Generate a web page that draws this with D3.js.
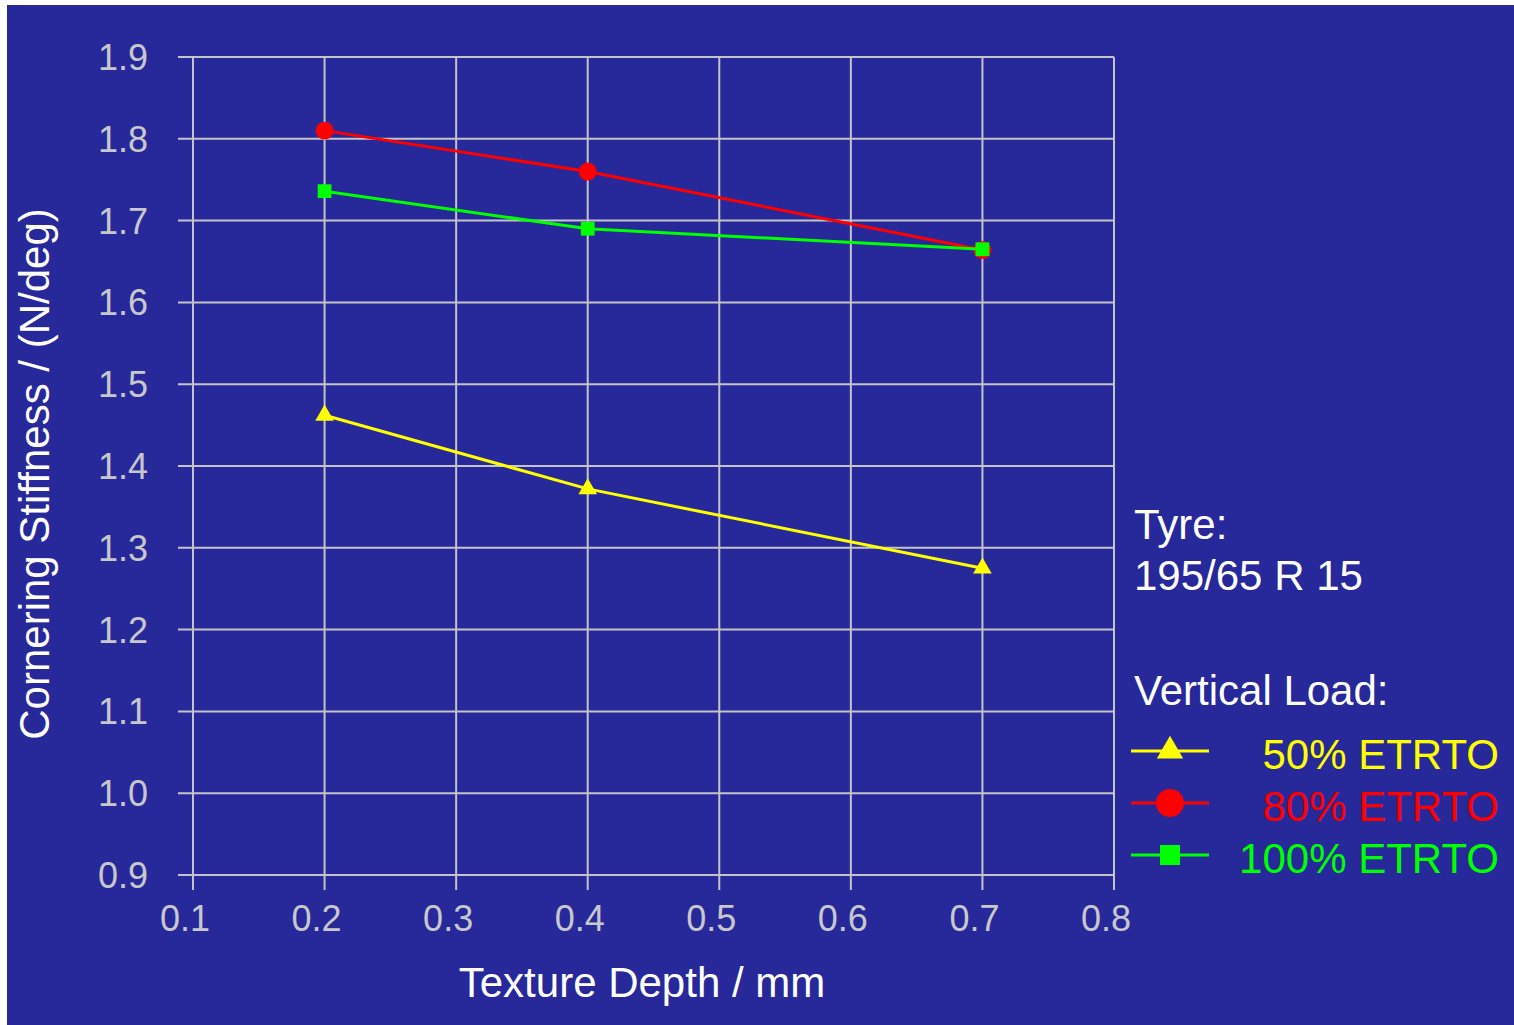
<!DOCTYPE html>
<html>
<head>
<meta charset="utf-8">
<script src="https://cdn.jsdelivr.net/npm/d3@7"></script>
<style>
  html, body { margin: 0; padding: 0; background: #ffffff; }
  svg { display: block; }
  text { font-family: "Liberation Sans", Arial, sans-serif; }
</style>
</head>
<body>
<svg id="chart" width="1514" height="1025"></svg>
<script>
// Texture depth (mm) at which cornering stiffness was measured
const depths = [0.2, 0.4, 0.7];
// Cornering stiffness (N/deg) per vertical load level
const load50 = [1.462, 1.372, 1.275];
const load80 = [1.810, 1.760, 1.664];
const load100 = [1.736, 1.690, 1.665];

const seriesNames = ["50% ETRTO", "80% ETRTO", "100% ETRTO"];
const xTicks = [0.1, 0.2, 0.3, 0.4, 0.5, 0.6, 0.7, 0.8];
const yTicks = [0.9, 1.0, 1.1, 1.2, 1.3, 1.4, 1.5, 1.6, 1.7, 1.8, 1.9];

const tyreLines = ["Tyre:", "195/65 R 15"];
const legendTitle = "Vertical Load:";

const series = [
  { name: seriesNames[0], values: load50, color: "#ffff00", symbol: d3.symbolTriangle },
  { name: seriesNames[1], values: load80, color: "#ff0000", symbol: d3.symbolCircle },
  { name: seriesNames[2], values: load100, color: "#00ff00", symbol: d3.symbolSquare }
];

const svg = d3.select("#chart");
const bg = "#27289a";
const gridColor = "#c4c4c8";
const labelColor = "#c8c8cc";

svg.append("rect").attr("x", 7).attr("y", 5).attr("width", 1514 - 7).attr("height", 1025 - 5).attr("fill", bg);

const x = d3.scaleLinear().domain([0.1, 0.8]).range([193, 1114]);
const y = d3.scaleLinear().domain([0.9, 1.9]).range([875, 57]);

// grid
const grid = svg.append("g");
grid.selectAll(".hg").data(yTicks).join("line")
  .attr("x1", 178).attr("x2", x(0.8))
  .attr("y1", d => y(d)).attr("y2", d => y(d))
  .attr("stroke", gridColor).attr("stroke-width", 2);
grid.selectAll(".vg").data(xTicks).join("line")
  .attr("x1", d => x(d)).attr("x2", d => x(d))
  .attr("y1", y(1.9)).attr("y2", 890)
  .attr("stroke", gridColor).attr("stroke-width", 2);

// tick labels
svg.append("g").selectAll("text").data(yTicks).join("text")
  .attr("x", 148).attr("y", d => y(d)).attr("dy", "0.36em")
  .attr("text-anchor", "end").attr("font-size", 36).attr("fill", labelColor)
  .text(d => d3.format(".1f")(d));
svg.append("g").selectAll("text").data(xTicks).join("text")
  .attr("x", d => x(d) - 8).attr("y", 931)
  .attr("text-anchor", "middle").attr("font-size", 36).attr("fill", labelColor)
  .text(d => d3.format(".1f")(d));

// axis titles
svg.append("text").attr("x", 642).attr("y", 997).attr("text-anchor", "middle")
  .attr("font-size", 42).attr("fill", "#ffffff").text("Texture Depth / mm");
svg.append("text").attr("transform", "translate(49,474) rotate(-90)").attr("text-anchor", "middle")
  .attr("font-size", 42).attr("fill", "#ffffff").text("Cornering Stiffness / (N/deg)");

// series lines and markers
const line = d3.line().x((d, i) => x(depths[i])).y(d => y(d));
const plotSizes = { 0: 150, 1: 254, 2: 190 };
series.forEach((s, si) => {
  const g = svg.append("g");
  g.append("path").datum(s.values).attr("d", line)
    .attr("fill", "none").attr("stroke", s.color).attr("stroke-width", 3);
  g.selectAll("path.m").data(s.values).join("path").attr("class", "m")
    .attr("transform", (d, i) => `translate(${x(depths[i])},${y(d)})`)
    .attr("d", d3.symbol().type(s.symbol).size(plotSizes[si]))
    .attr("fill", s.color);
});

// annotation
const ann = svg.append("g");
tyreLines.forEach((t, i) => {
  ann.append("text").attr("x", 1134).attr("y", 539 + i * 51)
    .attr("font-size", 42).attr("fill", "#ffffff").text(t);
});
ann.append("text").attr("x", 1134).attr("y", 705)
  .attr("font-size", 42).attr("fill", "#ffffff").text(legendTitle);

// legend
const legendSizes = { 0: 300, 1: 615, 2: 400 };
const legendRows = [751, 803, 855];
series.forEach((s, si) => {
  const ly = legendRows[si];
  const g = svg.append("g");
  g.append("line").attr("x1", 1131).attr("x2", 1209).attr("y1", ly).attr("y2", ly)
    .attr("stroke", s.color).attr("stroke-width", 3);
  g.append("path").attr("transform", `translate(1170,${ly})`)
    .attr("d", d3.symbol().type(s.symbol).size(legendSizes[si]))
    .attr("fill", s.color);
  g.append("text").attr("x", 1499).attr("y", ly + 18).attr("text-anchor", "end")
    .attr("font-size", 42).attr("fill", s.color).text(s.name);
});
</script>
</body>
</html>
